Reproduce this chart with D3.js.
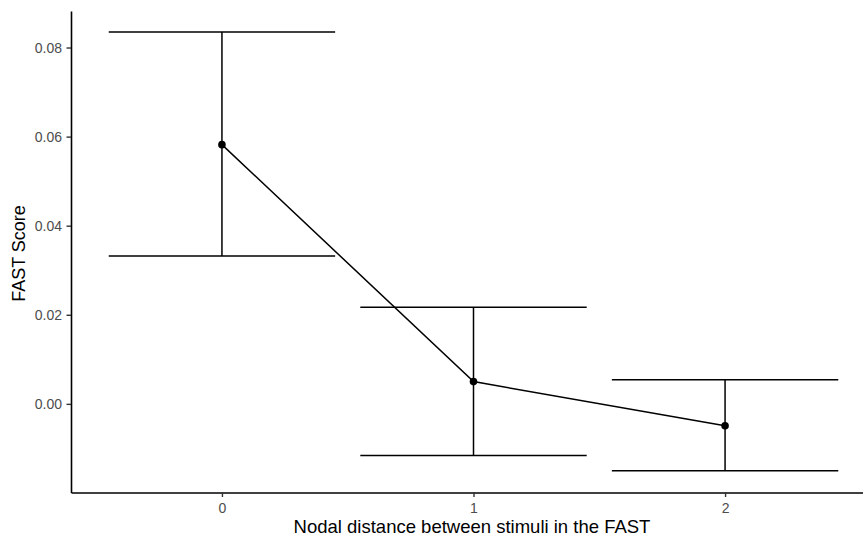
<!DOCTYPE html>
<html><head><meta charset="utf-8">
<script src="https://cdn.jsdelivr.net/npm/d3@7"></script>
<style>body{margin:0;background:#fff}svg{display:block}</style>
</head><body>
<script>
const categories = [0, 1, 2];
const means = [0.0582, 0.0050, -0.0049];
const upper = [0.0835, 0.0217, 0.0054];
const lower = [0.0332, -0.0116, -0.0150];
const yTicks = [0.00, 0.02, 0.04, 0.06, 0.08];
const xLabel = "Nodal distance between stimuli in the FAST";
const yLabel = "FAST Score";

(function () {
const W = 863, H = 536;
const svg = d3.select("body").append("svg").attr("width", W).attr("height", H);
const pL = 71, pR = 876, pT = 11, pB = 492.5;

const x = d3.scaleLinear().domain([-0.6, 2.6]).range([pL, pR]);
const y = d3.scaleLinear().domain([-0.0199, 0.0882]).range([pB, pT]);

const data = categories.map((c, i) => ({c, m: means[i], u: upper[i], l: lower[i]}));
const font = "'Liberation Sans', Arial, Helvetica, sans-serif";

// error bars
const eb = svg.append("g").attr("stroke", "#000").attr("stroke-width", 1.5).attr("fill", "none");
data.forEach(d => {
  eb.append("line").attr("x1", x(d.c)).attr("x2", x(d.c)).attr("y1", y(d.u)).attr("y2", y(d.l));
  eb.append("line").attr("x1", x(d.c - 0.45)).attr("x2", x(d.c + 0.45)).attr("y1", y(d.u)).attr("y2", y(d.u));
  eb.append("line").attr("x1", x(d.c - 0.45)).attr("x2", x(d.c + 0.45)).attr("y1", y(d.l)).attr("y2", y(d.l));
});

// line
svg.append("path").datum(data)
  .attr("fill", "none").attr("stroke", "#000").attr("stroke-width", 1.5)
  .attr("d", d3.line().x(d => x(d.c)).y(d => y(d.m)));

// points
svg.append("g").selectAll("circle").data(data).join("circle")
  .attr("cx", d => x(d.c)).attr("cy", d => y(d.m)).attr("r", 3.8).attr("fill", "#000");

// axes
const xAxis = svg.append("g").attr("transform", `translate(0,${pB})`)
  .call(d3.axisBottom(x).tickValues(categories).tickFormat(d3.format("d"))
    .tickSizeInner(4.5).tickSizeOuter(0).tickPadding(6));
const yAxis = svg.append("g").attr("transform", `translate(${pL},0)`)
  .call(d3.axisLeft(y).tickValues(yTicks).tickFormat(d3.format(".2f"))
    .tickSizeInner(4.5).tickSizeOuter(0).tickPadding(4.5));
[xAxis, yAxis].forEach(g => {
  g.attr("font-size", null).attr("font-family", null);
  g.select(".domain").attr("stroke", "#000").attr("stroke-width", 1.6);
  g.selectAll(".tick line").attr("stroke", "#333").attr("stroke-width", 1.4);
  g.selectAll(".tick text").attr("fill", "#4d4d4d").style("font-family", font).style("font-size", "14px");
});

svg.append("text").attr("x", 472).attr("y", 532.5).attr("text-anchor", "middle")
  .style("font-family", font).style("font-size", "18.5px").attr("fill", "#000").text(xLabel);
svg.append("text").attr("transform", `translate(25,253.5) rotate(-90)`).attr("text-anchor", "middle")
  .style("font-family", font).style("font-size", "18px").attr("fill", "#000").text(yLabel);
})();
</script>
</body></html>
